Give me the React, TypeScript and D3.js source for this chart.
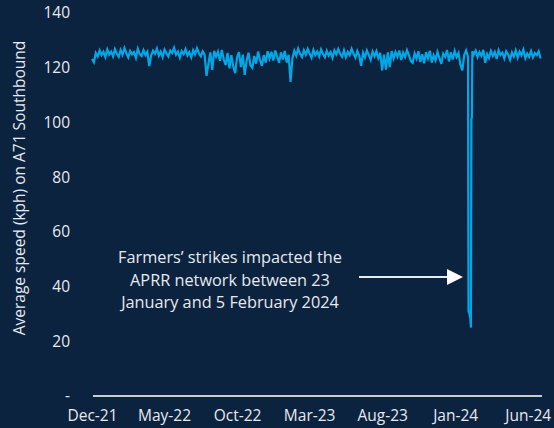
import React, {useEffect, useRef} from "react";
import * as d3 from "d3";

// speed readings, one every 4 days from 1 Dec 2021 (null = covered by strike data below)
const speedStart = "2021-12-01";
const stepDays = 4;
const speeds: (number | null)[] = [
    123.2, 122.0, 125.4, 124.1, 126.3, 124.6, 125.8, 123.9, 126.7, 124.8,
    125.9, 124.2, 126.8, 125.1, 124.0, 126.5, 124.7, 127.2, 125.3, 123.8,
    126.1, 124.9, 125.7, 123.6, 126.9, 125.0, 124.3, 126.4, 124.6, 125.8,
    120.6, 124.5, 126.2, 125.1, 127.0, 124.4, 125.9, 123.9, 126.6, 125.2,
    124.1, 126.3, 125.4, 127.3, 124.8, 125.9, 123.7, 126.1, 125.0, 126.8,
    124.5, 125.7, 123.8, 126.4, 124.9, 127.1, 125.3, 124.2, 126.0, 124.7,
    117.0, 121.5, 125.6, 119.2, 126.2, 124.0, 125.8, 122.5, 126.5, 123.1,
    121.0, 125.4, 119.8, 124.6, 120.5, 118.0, 123.9, 125.7, 120.2, 124.8,
    117.4, 122.6, 125.5, 120.9, 120.0, 124.3, 121.5, 125.9, 122.8, 120.7,
    124.6, 121.9, 126.0, 123.4, 125.8, 122.6, 126.3, 124.0, 121.8, 125.6,
    123.0, 126.1, 121.9, 124.7, 114.8, 123.5, 126.2, 124.4, 127.0, 125.1,
    123.9, 126.4, 124.8, 126.9, 125.2, 123.7, 126.5, 124.6, 125.9, 124.1,
    126.7, 125.0, 123.8, 126.2, 124.5, 125.7, 123.6, 126.3, 124.9, 126.8,
    125.1, 124.0, 126.4, 123.9, 125.8, 124.6, 126.9, 125.2, 123.7, 126.1,
    124.4, 120.7, 125.5, 123.8, 126.3, 124.7, 122.9, 125.9, 124.2, 126.0,
    123.5, 125.4, 119.0, 124.8, 119.3, 125.6, 120.2, 126.1, 123.4, 125.7,
    124.0, 126.3, 122.8, 125.5, 123.9, 126.4, 124.6, 122.5, 121.8, 125.2,
    123.3, 126.0, 122.1, 124.9, 121.6, 125.7, 123.4, 126.2, 121.9, 124.5,
    122.7, 125.8, 123.6, 121.4, 125.1, 124.0, 126.5, 122.3, 125.6, 123.0,
    126.1, 123.9, 125.4, 121.2, 119.0, 124.6, 126.3, 124.0, null, null,
    124.8, 126.2, 123.9, 125.7, 124.4, 126.5, 121.8, 125.0, 123.6, 126.1,
    124.3, 125.8, 123.2, 126.4, 124.7, 125.5, 123.4, 126.0, 124.9, 122.9,
    125.6, 124.1, 126.3, 123.7, 125.9, 124.5, 126.6, 123.5, 125.2, 124.0,
    126.1, 123.8, 125.4, 124.6, 126.0, 123.4
];

// farmers' strike period, daily-ish
const strikeDates = ["2024-01-29", "2024-01-31", "2024-02-02", "2024-02-03", "2024-02-04", "2024-02-05", "2024-02-06"];
const strikeSpeeds = [31, 30, 28, 25, 101, 102, 126];

const xTickDates = ["2021-12-01", "2022-05-01", "2022-10-01", "2023-03-01", "2023-08-01", "2024-01-01", "2024-06-01"];
const yTicks = [0, 20, 40, 60, 80, 100, 120, 140];

const noteLines = ["Farmers\u2019 strikes impacted the", "APRR network between 23", "January and 5 February 2024"];

export default function App() {
    const ref = useRef<SVGSVGElement>(null);

    useEffect(() => {
        const svg = d3.select(ref.current);
        svg.selectAll("*").remove();

        const width = 554;
        const height = 428;
        const font = "'Open Sans', sans-serif";
        const textColor = "#e6e9ee";

        svg.append("rect").attr("width", width).attr("height", height).attr("fill", "#0c2340");

        const parse = d3.timeParse("%Y-%m-%d");
        const start = parse(speedStart) as Date;

        let points: {date: Date, value: number}[] = [];
        speeds.forEach((v, i) => {
            if (v !== null) points.push({date: d3.timeDay.offset(start, i * stepDays), value: v});
        });
        strikeDates.forEach((d, i) => points.push({date: parse(d) as Date, value: strikeSpeeds[i]}));
        points.sort((a, b) => +a.date - +b.date);

        // scales
        const x = d3.scaleTime()
            .domain([parse("2021-12-01") as Date, parse("2024-07-01") as Date])
            .range([92, 542]);
        const y = d3.scaleLinear().domain([0, 140]).range([396, 13]);

        // y axis labels
        const yAxis = d3.axisLeft(y)
            .tickValues(yTicks)
            .tickSize(0)
            .tickPadding(6)
            .tickFormat((d: any) => d === 0 ? "-" : String(d));
        const yg = svg.append("g").attr("transform", "translate(76,0)").call(yAxis);
        yg.select(".domain").remove();
        yg.selectAll("text")
            .attr("fill", textColor)
            .attr("font-family", font)
            .attr("font-size", 15.5);

        // x axis labels
        const fmt = d3.timeFormat("%b-%y");
        const xAxis = d3.axisBottom(x)
            .tickValues(xTickDates.map(d => parse(d) as Date))
            .tickSize(0)
            .tickPadding(14)
            .tickFormat((d: any) => fmt(d));
        const xg = svg.append("g").attr("transform", "translate(0,396)").call(xAxis);
        xg.select(".domain").remove();
        xg.selectAll("text")
            .attr("fill", textColor)
            .attr("font-family", font)
            .attr("font-size", 15.5);

        // baseline
        svg.append("line")
            .attr("x1", 93).attr("x2", 542)
            .attr("y1", y(0)).attr("y2", y(0))
            .attr("stroke", "#c8ccd2")
            .attr("stroke-width", 2);

        // speed line
        const line = d3.line<{date: Date, value: number}>()
            .x(d => x(d.date))
            .y(d => y(d.value));
        svg.append("path")
            .datum(points)
            .attr("d", line)
            .attr("fill", "none")
            .attr("stroke", "#00a8e8")
            .attr("stroke-width", 2.2)
            .attr("stroke-linejoin", "miter");

        // y title
        svg.append("text")
            .attr("transform", "translate(25,188) rotate(-90)")
            .attr("text-anchor", "middle")
            .attr("fill", textColor)
            .attr("font-family", font)
            .attr("font-size", 15.5)
            .text("Average speed (kph) on A71 Southbound");

        // annotation
        noteLines.forEach((t, i) => {
            svg.append("text")
                .attr("x", 230)
                .attr("y", 263 + i * 22.5)
                .attr("text-anchor", "middle")
                .attr("fill", textColor)
                .attr("font-family", font)
                .attr("font-size", 16.3)
                .text(t);
        });

        svg.append("line")
            .attr("x1", 359).attr("x2", 449)
            .attr("y1", 277).attr("y2", 277)
            .attr("stroke", "#e6e9ee")
            .attr("stroke-width", 2);
        svg.append("path")
            .attr("d", "M447,269 L463,277 L447,285 Z")
            .attr("fill", "#ffffff");
    }, []);

    return (
        <svg ref={ref} width={554} height={428}
             style={{position: "absolute", left: 0, top: 0, display: "block"}}/>
    );
}
